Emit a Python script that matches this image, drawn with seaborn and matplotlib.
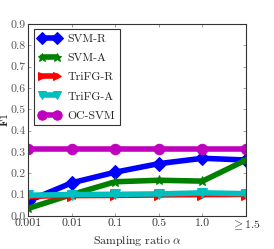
import numpy as np
import pandas as pd
import matplotlib
matplotlib.use('Agg')
import matplotlib.pyplot as plt
import seaborn as sns

ratios = ["0.001", "0.01", "0.1", "0.5", "1.0", r"$\geq$1.5"]
svm_r = [0.070, 0.155, 0.205, 0.245, 0.270, 0.262]
svm_a = [0.035, 0.100, 0.160, 0.167, 0.163, 0.262]
trifg_r = [0.092, 0.095, 0.096, 0.098, 0.100, 0.100]
trifg_a = [0.097, 0.100, 0.101, 0.103, 0.108, 0.104]
oc_svm = [0.313, 0.313, 0.313, 0.313, 0.313, 0.313]

names = ["SVM-R", "SVM-A", "TriFG-R", "TriFG-A", "OC-SVM"]
series = [svm_r, svm_a, trifg_r, trifg_a, oc_svm]
colors = ['#0000ff', '#008000', '#ff0000', '#00bfbf', '#bf00bf']
markers = ['D', '*', '>', 'v', 'o']
msizes = [7, 7, 7, 7, 7.5]

rows = []
for name, vals in zip(names, series):
    for i, v in enumerate(vals):
        rows.append({"pos": i, "F1": v, "method": name})
df = pd.DataFrame(rows)

sns.set_style("ticks")
plt.rcParams['font.family'] = ['cmr10', 'DejaVu Serif']
plt.rcParams['mathtext.fontset'] = 'cm'
plt.rcParams['axes.formatter.use_mathtext'] = True
plt.rcParams['axes.unicode_minus'] = False

fig, ax = plt.subplots(figsize=(2.74, 2.49), dpi=100)
for name, c, m, ms in zip(names, colors, markers, msizes):
    sub = df[df.method == name]
    sns.lineplot(data=sub, x="pos", y="F1", ax=ax, color=c, marker=m,
                 markersize=ms, linewidth=4, markeredgecolor=c,
                 label=name, legend=False)

ax.set_xlim(0, 5)
ax.set_ylim(0, 0.9)
ax.set_xticks(range(len(ratios)))
ax.set_xticklabels(ratios, fontsize=8.5)
yt = np.arange(0, 0.91, 0.1)
ax.set_yticks(yt)
ax.set_yticklabels(["%.1f" % t for t in yt], fontsize=8.5, color='#555555')
for lab in ax.get_xticklabels():
    lab.set_color('#333333')
ax.tick_params(direction='in', top=True, right=True, length=2, width=0.5,
               color='#777777', pad=2)
for s in ax.spines.values():
    s.set_color('#333333')
    s.set_linewidth(0.8)
ax.set_xlabel(r"Sampling ratio $\alpha$", fontsize=8.5, labelpad=1)
ax.set_ylabel(r"$\mathbf{F1}$", fontsize=8.5, labelpad=0)

leg = ax.legend(loc='upper left', numpoints=2, handlelength=1.9, fontsize=8.5,
                frameon=True, fancybox=False, borderpad=0.4, labelspacing=0.75,
                handletextpad=0.6, borderaxespad=0.45, markerscale=0.9)
leg.get_frame().set_edgecolor('black')
leg.get_frame().set_linewidth(0.8)

fig.subplots_adjust(left=0.103, right=0.898, top=0.904, bottom=0.133)
fig.savefig("out.png", dpi=100)
